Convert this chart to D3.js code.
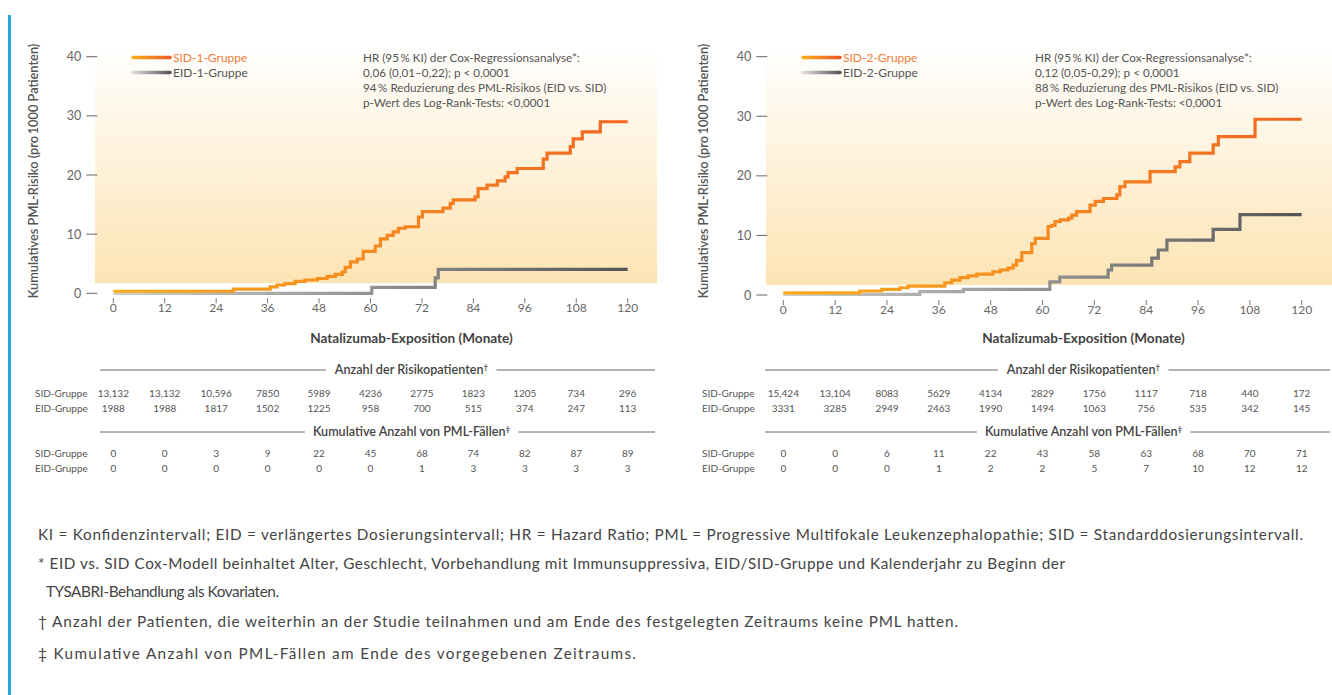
<!DOCTYPE html>
<html>
<head>
<meta charset="utf-8">
<script src="https://cdn.jsdelivr.net/npm/d3@7"></script>
<style>
  body { margin: 0; background: #fff; }
  svg { display: block; font-family: Lato, "Open Sans", sans-serif; }
</style>
</head>
<body>
<svg id="mainSvg" width="1332" height="695"></svg>
<script>
// months on the x axis, risk ticks on the y axis
var months = [0, 12, 24, 36, 48, 60, 72, 84, 96, 108, 120];
var riskTicks = [0, 10, 20, 30, 40];

// step curves: [month, cumulative risk per 1000]
var sid1Steps = [[0,0.35],[28,0.7],[36.6,1.1],[38.2,1.4],[40,1.65],[42.4,2.0],[44.7,2.25],[47.6,2.5],[49.9,2.85],[51.8,3.2],[53.4,3.6],[54.1,4.4],[55.3,5.3],[56.9,5.8],[58.3,7.1],[61.1,8.0],[62.3,9.2],[63.9,9.8],[65.3,10.4],[66.5,11.0],[68.1,11.25],[71.2,12.9],[72.1,13.8],[76.9,14.4],[78.6,15.2],[79.3,15.8],[84.4,16.3],[85.1,17.7],[87.2,18.3],[89.6,19.0],[91.4,19.7],[92.1,20.4],[94.2,21.1],[100.3,22.7],[101.2,23.7],[106.6,24.8],[107.3,26.1],[109.4,27.3],[113.6,29.0],[120,29.0]];
var eid1Steps = [[0,0],[60.3,1.0],[75.1,2.6],[75.8,4.05],[120,4.05]];
var sid2Steps = [[0,0.35],[17.7,0.67],[22.8,0.96],[27,1.22],[28.9,1.5],[37.4,2.06],[39,2.5],[40.9,2.9],[42.8,3.2],[44.8,3.5],[48.5,3.9],[50.2,4.2],[52,4.5],[53.2,5.0],[54,5.8],[55.2,7.1],[57.5,8.6],[58.3,9.5],[61.3,11.5],[62.1,11.7],[62.9,12.3],[64.1,12.6],[66,12.9],[66.8,13.4],[67.9,14.0],[71,15.1],[72.2,15.7],[74.1,16.2],[77.2,16.8],[77.9,18.2],[79.1,19.0],[84.9,20.7],[90.7,21.5],[91.8,22.4],[94.1,23.8],[99.5,25.2],[100.7,26.6],[109.2,29.5],[120,29.5]];
var eid2Steps = [[0,0.1],[31.6,0.55],[41.7,0.96],[61.7,2.2],[64,3.0],[75.2,4.2],[76,5.0],[85.3,6.2],[86.8,7.55],[88.8,9.2],[99.5,11.0],[105.7,13.5],[120,13.5]];

// numbers under the charts
var sid1AtRisk = ["13,132","13,132","10,596","7850","5989","4236","2775","1823","1205","734","296"];
var eid1AtRisk = ["1988","1988","1817","1502","1225","958","700","515","374","247","113"];
var sid1Cases = ["0","0","3","9","22","45","68","74","82","87","89"];
var eid1Cases = ["0","0","0","0","0","0","1","3","3","3","3"];
var sid2AtRisk = ["15,424","13,104","8083","5629","4134","2829","1756","1117","718","440","172"];
var eid2AtRisk = ["3331","3285","2949","2463","1990","1494","1063","756","535","342","145"];
var sid2Cases = ["0","0","6","11","22","43","58","63","68","70","71"];
var eid2Cases = ["0","0","0","1","2","2","5","7","10","12","12"];

var legend1 = ["SID-1-Gruppe", "EID-1-Gruppe"];
var legend2 = ["SID-2-Gruppe", "EID-2-Gruppe"];
var note1 = ["HR (95\u2009% KI) der Cox-Regressionsanalyse*:", "0,06 (0,01\u20130,22); p < 0,0001", "94\u2009% Reduzierung des PML-Risikos (EID vs. SID)", "p-Wert des Log-Rank-Tests: <0,0001"];
var note2 = ["HR (95\u2009% KI) der Cox-Regressionsanalyse*:", "0,12 (0,05-0,29); p < 0,0001", "88\u2009% Reduzierung des PML-Risikos (EID vs. SID)", "p-Wert des Log-Rank-Tests: <0,0001"];
var footnotes = [
  "KI = Konfidenzintervall; EID = verlängertes Dosierungsintervall; HR = Hazard Ratio; PML = Progressive Multifokale Leukenzephalopathie; SID = Standarddosierungsintervall.",
  "* EID vs. SID Cox-Modell beinhaltet Alter, Geschlecht, Vorbehandlung mit Immunsuppressiva, EID/SID-Gruppe und Kalenderjahr zu Beginn der",
  "TYSABRI-Behandlung als Kovariaten.",
  "\u2020 Anzahl der Patienten, die weiterhin an der Studie teilnahmen und am Ende des festgelegten Zeitraums keine PML hatten.",
  "\u2021 Kumulative Anzahl von PML-Fällen am Ende des vorgegebenen Zeitraums."
];

var svg = d3.select("#mainSvg");
var defs = svg.append("defs");

// blue side bar
svg.append("rect").attr("x", 8).attr("y", 15).attr("width", 3).attr("height", 680).attr("fill", "#27a5e0");

// background gradient
var bgGrad = defs.append("linearGradient").attr("id", "bgGrad").attr("x1", 0).attr("x2", 0).attr("y1", 0).attr("y2", 1);
bgGrad.append("stop").attr("offset", "0%").attr("stop-color", "#ffffff");
bgGrad.append("stop").attr("offset", "100%").attr("stop-color", "#fde4b4");

function gradient(id, x1, x2, c1, c2) {
    var g = defs.append("linearGradient").attr("id", id).attr("gradientUnits", "userSpaceOnUse")
        .attr("x1", x1).attr("x2", x2).attr("y1", 0).attr("y2", 0);
    g.append("stop").attr("offset", "0%").attr("stop-color", c1);
    g.append("stop").attr("offset", "100%").attr("stop-color", c2);
}

var panels = [
    {id: "p1", x0: 113.3, x1: 627.7, y0: 293.3, yTop: 56.7, bgL: 95, bgR: 657, legX: 133, noteX: 363, labX: 35, titleX: 38, ruleL: 100, ruleR: 655,
     sid: sid1Steps, eid: eid1Steps, legend: legend1, note: note1, rows: [sid1AtRisk, eid1AtRisk, sid1Cases, eid1Cases]},
    {id: "p2", x0: 783.3, x1: 1301.7, y0: 295, yTop: 56.7, bgL: 766, bgR: 1332, legX: 803, noteX: 1035, labX: 702, titleX: 708, ruleL: 765, ruleR: 1330,
     sid: sid2Steps, eid: eid2Steps, legend: legend2, note: note2, rows: [sid2AtRisk, eid2AtRisk, sid2Cases, eid2Cases]}
];

panels.forEach(function (p) {
    var x = d3.scaleLinear().domain([0, 120]).range([p.x0, p.x1]);
    var y = d3.scaleLinear().domain([0, 40]).range([p.y0, p.yTop]);
    var g = svg.append("g");
    var mid = (p.x0 + p.x1) / 2 + 41;

    g.append("rect").attr("x", p.bgL).attr("y", 46).attr("width", p.bgR - p.bgL)
        .attr("height", y(1.7) - 46).attr("fill", "url(#bgGrad)");

    // y ticks
    riskTicks.forEach(function (t) {
        g.append("line").attr("x1", p.x0 - 27).attr("x2", p.x0 - 16).attr("y1", y(t)).attr("y2", y(t))
            .attr("stroke", "#666").attr("stroke-width", 1);
        g.append("text").attr("x", p.x0 - 32).attr("y", y(t) + 4.5).attr("text-anchor", "end")
            .attr("font-size", 12.5).attr("fill", "#666").text(t);
    });
    // x ticks
    months.forEach(function (m) {
        g.append("line").attr("x1", x(m)).attr("x2", x(m)).attr("y1", p.y0 + 5).attr("y2", p.y0 + 10)
            .attr("stroke", "#777").attr("stroke-width", 1);
        g.append("text").attr("x", x(m)).attr("y", p.y0 + 19).attr("text-anchor", "middle")
            .attr("font-size", 12).attr("fill", "#666").text(m);
    });

    g.append("text").attr("transform", "translate(" + p.titleX + "," + 171 + ") rotate(-90)")
        .attr("text-anchor", "middle").attr("font-size", 12.8).attr("font-weight", 600).attr("fill", "#555")
        .text("Kumulatives PML-Risiko (pro\u20091000 Patienten)");

    // curves
    gradient(p.id + "sid", x(0), x(120), "#f9ad1c", "#f26522");
    gradient(p.id + "eid", x(0), x(120), "#cfcfcf", "#555555");
    var line = d3.line().x(function (d) { return x(d[0]); }).y(function (d) { return y(d[1]); }).curve(d3.curveStepAfter);
    g.append("path").attr("d", line(p.eid)).attr("fill", "none").attr("stroke", "url(#" + p.id + "eid)").attr("stroke-width", 3.2);
    g.append("path").attr("d", line(p.sid)).attr("fill", "none").attr("stroke", "url(#" + p.id + "sid)").attr("stroke-width", 3.2);

    // legend
    gradient(p.id + "legS", p.legX, p.legX + 37, "#f9ad1c", "#f05a24");
    gradient(p.id + "legE", p.legX, p.legX + 37, "#dddddd", "#555555");
    [["legS", "#f07c3c"], ["legE", "#555"]].forEach(function (l, i) {
        var ly = 57.5 + i * 15;
        g.append("line").attr("x1", p.legX).attr("x2", p.legX + 37).attr("y1", ly).attr("y2", ly)
            .attr("stroke", "url(#" + p.id + l[0] + ")").attr("stroke-width", 3.5).attr("stroke-linecap", "round");
        g.append("text").attr("x", p.legX + 40).attr("y", ly + 4).attr("font-size", 12).attr("fill", l[1]).text(p.legend[i]);
    });

    // annotation
    g.selectAll(".note").data(p.note).enter().append("text")
        .attr("x", p.noteX).attr("y", function (d, i) { return 62 + i * 15; })
        .attr("font-size", 11.7).attr("fill", "#555").text(function (d) { return d; });

    // table
    g.append("text").attr("x", mid).attr("y", 343).attr("text-anchor", "middle")
        .attr("font-size", 13.6).attr("font-weight", 700).attr("fill", "#444").text("Natalizumab-Exposition (Monate)");

    var heads = [["Anzahl der Risikopatienten", "\u2020", 374], ["Kumulative Anzahl von PML-Fällen", "\u2021", 436]];
    heads.forEach(function (h, hi) {
        var t = g.append("text").attr("x", mid).attr("y", h[2]).attr("text-anchor", "middle")
            .attr("font-size", 12.6).attr("font-weight", 600).attr("fill", "#444");
        t.append("tspan").text(h[0]);
        t.append("tspan").attr("dy", -4).attr("font-size", 8).text(h[1]);
        var bb = t.node().getBBox();
        g.append("line").attr("x1", p.ruleL).attr("x2", bb.x - 8).attr("y1", h[2] - 4).attr("y2", h[2] - 4).attr("stroke", "#666").attr("stroke-width", 1);
        g.append("line").attr("x1", bb.x + bb.width + 8).attr("x2", p.ruleR).attr("y1", h[2] - 4).attr("y2", h[2] - 4).attr("stroke", "#666").attr("stroke-width", 1);

        [0, 1].forEach(function (ri) {
            var ry = (hi === 0 ? 397 : 457) + ri * 15;
            g.append("text").attr("x", p.labX).attr("y", ry).attr("font-size", 10).attr("fill", "#555")
                .text(ri === 0 ? "SID-Gruppe" : "EID-Gruppe");
            g.selectAll(".r" + hi + ri).data(p.rows[hi * 2 + ri]).enter().append("text")
                .attr("x", function (d, i) { return x(months[i]); }).attr("y", ry)
                .attr("text-anchor", "middle").attr("font-size", 10).attr("fill", "#555")
                .text(function (d) { return d; });
        });
    });
});

// footnotes, stretched to the line widths of the original
var footY = [540, 569, 597, 627, 659];
var footX = [38, 38, 46, 38, 38];
var footW = [1265, 1027, 233, 920, 598];
svg.selectAll(".foot").data(footnotes).enter().append("text")
    .attr("x", function (d, i) { return footX[i]; }).attr("y", function (d, i) { return footY[i]; })
    .attr("font-size", 15.3).attr("fill", "#444")
    .attr("textLength", function (d, i) { return footW[i]; }).attr("lengthAdjust", "spacing")
    .text(function (d) { return d; });
</script>
</body>
</html>
